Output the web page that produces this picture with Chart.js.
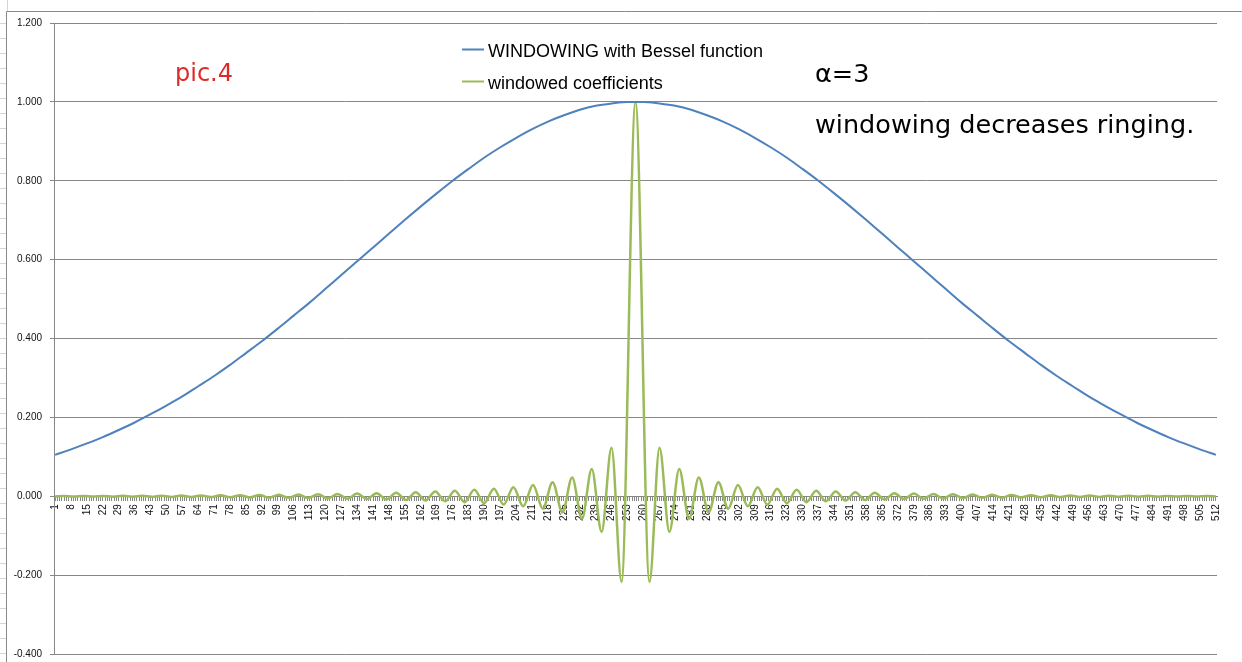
<!DOCTYPE html>
<html>
<head>
<meta charset="utf-8">
<title>pic.4 windowing</title>
<script src="https://cdn.jsdelivr.net/npm/chart.js@4.4.1/dist/chart.umd.min.js"></script>
<style>
  html, body { margin: 0; padding: 0; background: #fff; }
  #wrap { position: relative; width: 1242px; height: 662px; }
</style>
</head>
<body>
<div id="wrap"><canvas id="chart" width="1242" height="662"></canvas></div>
<script>
// x categories (sample index) that carry a label
const TICK_LABELS = [1, 8, 15, 22, 29, 36, 43, 50, 57, 64, 71, 78, 85, 92, 99, 106, 113, 120, 127, 134,
  141, 148, 155, 162, 169, 176, 183, 190, 197, 204, 211, 218, 225, 232, 239, 246, 253, 260, 267, 274,
  281, 288, 295, 302, 309, 316, 323, 330, 337, 344, 351, 358, 365, 372, 379, 386, 393, 400, 407, 414,
  421, 428, 435, 442, 449, 456, 463, 470, 477, 484, 491, 498, 505, 512];

// window values read at each labelled sample
const WINDOW_VALUES = [0.105, 0.119, 0.134, 0.150, 0.168, 0.187, 0.208, 0.230, 0.253, 0.279,
  0.305, 0.333, 0.363, 0.393, 0.425, 0.458, 0.491, 0.526, 0.561, 0.596,
  0.631, 0.666, 0.701, 0.735, 0.768, 0.800, 0.830, 0.859, 0.885, 0.909,
  0.931, 0.950, 0.966, 0.980, 0.990, 0.996, 1.000,
  1.000, 0.996, 0.990, 0.980, 0.966, 0.950, 0.931, 0.909, 0.885, 0.859,
  0.830, 0.800, 0.768, 0.735, 0.701, 0.666, 0.631, 0.596, 0.561, 0.526,
  0.491, 0.458, 0.425, 0.393, 0.363, 0.333, 0.305, 0.279, 0.253, 0.230,
  0.208, 0.187, 0.168, 0.150, 0.134, 0.119, 0.105];

// windowed coefficients: peaks / troughs of the ringing
const COEF_X = [1, 4.95, 9.25, 13.55, 17.85, 22.15, 26.45, 30.75, 35.05, 39.35,
  43.65, 47.95, 52.25, 56.55, 60.85, 65.15, 69.45, 73.75, 78.05, 82.35,
  86.65, 90.95, 95.25, 99.55, 103.85, 108.15, 112.45, 116.75, 121.05, 125.35,
  129.65, 133.95, 138.25, 142.55, 146.85, 151.15, 155.45, 159.75, 164.05, 168.35,
  172.65, 176.95, 181.25, 185.55, 189.85, 194.15, 198.45, 202.75, 207.05, 211.39,
  215.70, 220.00, 224.31, 228.62, 232.93, 237.25, 241.58, 245.93, 250.35,
  256.5,
  262.65, 267.07, 271.42, 275.75, 280.07, 284.38, 288.69, 293.00, 297.30, 301.61,
  305.95, 310.25, 314.55, 318.85, 323.15, 327.45, 331.75, 336.05, 340.35, 344.65,
  348.95, 353.25, 357.55, 361.85, 366.15, 370.45, 374.75, 379.05, 383.35, 387.65,
  391.95, 396.25, 400.55, 404.85, 409.15, 413.45, 417.75, 422.05, 426.35, 430.65,
  434.95, 439.25, 443.55, 447.85, 452.15, 456.45, 460.75, 465.05, 469.35, 473.65,
  477.95, 482.25, 486.55, 490.85, 495.15, 499.45, 503.75, 508.05, 512];

const COEF_Y = [-0.0005, 0.0006, -0.0007, 0.0007, -0.0008, 0.0009, -0.0010, 0.0010, -0.0011, 0.0012,
  -0.0013, 0.0015, -0.0016, 0.0017, -0.0019, 0.0020, -0.0022, 0.0024, -0.0026, 0.0028,
  -0.0030, 0.0032, -0.0035, 0.0037, -0.0040, 0.0043, -0.0046, 0.0050, -0.0054, 0.0058,
  -0.0062, 0.0067, -0.0071, 0.0077, -0.0082, 0.0089, -0.0095, 0.0102, -0.0110, 0.0119,
  -0.0128, 0.0138, -0.0150, 0.0162, -0.0176, 0.0192, -0.0210, 0.0230, -0.0254, 0.0283,
  -0.0316, 0.0358, -0.0410, 0.0477, -0.0569, 0.0690, -0.0905, 0.1230, -0.2170,
  1.000,
  -0.2170, 0.1230, -0.0905, 0.0690, -0.0569, 0.0477, -0.0410, 0.0358, -0.0316, 0.0283,
  -0.0254, 0.0230, -0.0210, 0.0192, -0.0176, 0.0162, -0.0150, 0.0138, -0.0128, 0.0119,
  -0.0110, 0.0102, -0.0095, 0.0089, -0.0082, 0.0077, -0.0071, 0.0067, -0.0062, 0.0058,
  -0.0054, 0.0050, -0.0046, 0.0043, -0.0040, 0.0037, -0.0035, 0.0032, -0.0030, 0.0028,
  -0.0026, 0.0024, -0.0022, 0.0020, -0.0019, 0.0017, -0.0016, 0.0015, -0.0013, 0.0012,
  -0.0011, 0.0010, -0.0010, 0.0009, -0.0008, 0.0007, -0.0007, 0.0006, -0.0005];

const Y_TICKS = [1.2, 1.0, 0.8, 0.6, 0.4, 0.2, 0, -0.2, -0.4];
const SAMPLE_COUNT = 512;

const GRID = '#878787';
const BLUE = '#4f81bd';
const GREEN = '#9bbb59';

// Excel-ish sheet and chart frame behind everything
const framePlugin = {
  id: 'frame',
  beforeDraw(chart) {
    const ctx = chart.ctx;
    ctx.save();
    ctx.fillStyle = '#fff';
    ctx.fillRect(0, 0, chart.width, chart.height);
    // sheet row lines peeking out on the left
    ctx.strokeStyle = '#d4d4d4';
    ctx.lineWidth = 1;
    for (let y = 23.5; y < chart.height; y += 15) {
      ctx.beginPath(); ctx.moveTo(0, y); ctx.lineTo(6, y); ctx.stroke();
    }
    ctx.beginPath(); ctx.moveTo(7.5, 0); ctx.lineTo(7.5, 11); ctx.stroke();
    // chart border
    ctx.strokeStyle = '#8a8a8a';
    ctx.beginPath();
    ctx.moveTo(6.5, chart.height); ctx.lineTo(6.5, 11.5); ctx.lineTo(1242, 11.5);
    ctx.stroke();
    ctx.restore();
  }
};

// legend and notes placed like in the sheet
const notesPlugin = {
  id: 'notes',
  afterDraw(chart) {
    const ctx = chart.ctx;
    ctx.save();
    ctx.textBaseline = 'alphabetic';
    ctx.textAlign = 'left';

    chart.data.datasets.forEach((ds, i) => {
      const y = 49 + i * 32;
      ctx.strokeStyle = ds.borderColor;
      ctx.lineWidth = 2;
      ctx.beginPath(); ctx.moveTo(462, y + 0.5); ctx.lineTo(484, y + 0.5); ctx.stroke();
      ctx.fillStyle = '#000';
      ctx.font = '18px "Liberation Sans", Arial, sans-serif';
      ctx.fillText(ds.label, 488, y + 8);
    });

    ctx.fillStyle = '#dc2a2a';
    ctx.font = '24px "DejaVu Sans", sans-serif';
    ctx.fillText('pic.4', 175, 81);

    ctx.fillStyle = '#000';
    ctx.font = '25.5px "DejaVu Sans", sans-serif';
    ctx.fillText('α=3', 815, 82);
    ctx.fillText('windowing decreases ringing.', 815, 133);
    ctx.restore();
  }
};

const ctx = document.getElementById('chart').getContext('2d');
new Chart(ctx, {
  type: 'line',
  data: {
    datasets: [
      {
        label: 'WINDOWING with Bessel function',
        data: TICK_LABELS.map((x, i) => ({ x: x, y: WINDOW_VALUES[i] })),
        borderColor: BLUE,
        borderWidth: 2,
        pointRadius: 0,
        cubicInterpolationMode: 'monotone',
        fill: false
      },
      {
        label: 'windowed coefficients',
        data: COEF_X.map((x, i) => ({ x: x, y: COEF_Y[i] })),
        borderColor: GREEN,
        borderWidth: 2.5,
        pointRadius: 0,
        cubicInterpolationMode: 'monotone',
        fill: false
      }
    ]
  },
  options: {
    responsive: false,
    animation: false,
    events: [],
    layout: { padding: { left: 0, top: 23, right: 25, bottom: 8 } },
    plugins: {
      legend: { display: false },
      tooltip: { enabled: false }
    },
    scales: {
      x: {
        type: 'linear',
        position: { y: 0 },
        min: 0.5,
        max: SAMPLE_COUNT + 0.5,
        afterBuildTicks: scale => {
          const ticks = [];
          for (let v = 1; v <= SAMPLE_COUNT; v++) ticks.push({ value: v });
          scale.ticks = ticks;
        },
        ticks: {
          autoSkip: false,
          minRotation: 90,
          maxRotation: 90,
          padding: 4,
          color: '#111',
          font: { family: '"Liberation Sans", Arial, sans-serif', size: 10 },
          callback: v => TICK_LABELS.includes(v) ? String(v) : ''
        },
        grid: { drawOnChartArea: false, drawTicks: true, tickLength: 4, color: GRID },
        border: { color: GRID }
      },
      y: {
        min: -0.4,
        max: 1.2,
        afterBuildTicks: scale => { scale.ticks = Y_TICKS.map(v => ({ value: v })); },
        afterFit: scale => {
          scale.width = 54;
          // labels may hang over the edges; the bottom one is cut off in the sheet too
          scale.paddingTop = 0;
          scale.paddingBottom = 0;
        },
        ticks: {
          padding: 8,
          color: '#111',
          font: { family: '"Liberation Sans", Arial, sans-serif', size: 10 },
          callback: v => v.toFixed(3)
        },
        grid: { color: GRID, tickLength: 4 },
        border: { color: GRID }
      }
    }
  },
  plugins: [framePlugin, notesPlugin]
});
</script>
</body>
</html>
